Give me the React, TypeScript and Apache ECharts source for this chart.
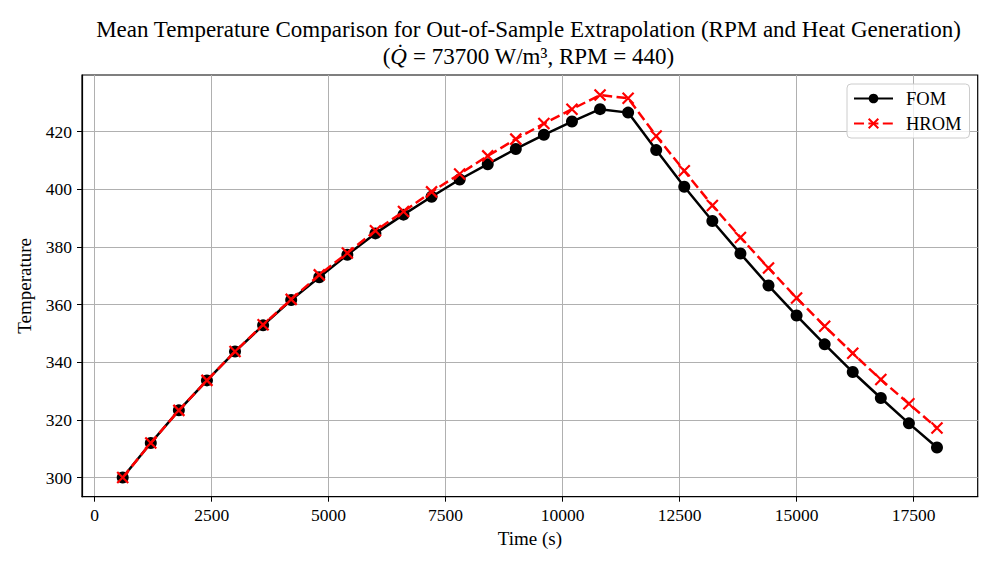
import React, { useEffect, useRef } from "react";
import * as echarts from "echarts";

const times = [600, 1200, 1800, 2400, 3000, 3600, 4200, 4800, 5400, 6000, 6600, 7200, 7800, 8400, 9000, 9600, 10200, 10800, 11400, 12000, 12600, 13200, 13800, 14400, 15000, 15600, 16200, 16800, 17400, 18000];
const fom = [300.0, 312.0, 323.3, 333.7, 343.7, 352.8, 361.6, 369.5, 377.3, 384.7, 391.2, 397.4, 403.4, 408.7, 414.0, 418.9, 423.5, 427.8, 426.6, 413.6, 400.9, 389.0, 377.7, 366.6, 356.2, 346.2, 336.6, 327.6, 318.8, 310.4];
const hrom = [300.0, 312.0, 323.3, 333.7, 343.7, 353.0, 361.8, 370.3, 377.9, 385.6, 392.3, 399.1, 405.3, 411.6, 417.4, 422.8, 427.8, 432.7, 431.6, 418.5, 406.4, 394.4, 383.3, 372.7, 362.3, 352.5, 343.1, 334.0, 325.6, 317.2];
const xTicks = [0, 2500, 5000, 7500, 10000, 12500, 15000, 17500];
const yTicks = [300, 320, 340, 360, 380, 400, 420];

const FONT = "Liberation Serif";

export default function App() {
  const ref = useRef<HTMLDivElement>(null);
  useEffect(() => {
    const chart = echarts.init(ref.current!, null, { renderer: "svg" });
    const xMarker = "path://M0,0L10,10M10,0L0,10";
    chart.setOption({
      animation: false,
      backgroundColor: "#ffffff",
      textStyle: { fontFamily: FONT },
      title: [
        {
          text: "Mean Temperature Comparison for Out-of-Sample Extrapolation (RPM and Heat Generation)",
          left: 523.5,
          top: 13,
          textAlign: "center",
          textStyle: { fontFamily: FONT, fontSize: 23, fontWeight: "normal", color: "#000" },
        },
        {
          text: "{a|(}{q|Q\u0307}{a| = 73700 W/m³, RPM = 440)}",
          left: 523.5,
          top: 40,
          textAlign: "center",
          textStyle: {
            fontFamily: FONT,
            fontSize: 23,
            fontWeight: "normal",
            color: "#000",
            rich: {
              a: { fontFamily: FONT, fontSize: 23, color: "#000" },
              q: { fontFamily: FONT, fontSize: 23, color: "#000", fontStyle: "italic" },
            },
          },
        },
      ],
      grid: { left: 82, right: 19.3, top: 75, bottom: 73.3, containLabel: false, show: true, borderColor: "#000", borderWidth: 1.2, backgroundColor: "transparent" },
      legend: {
        left: 847,
        top: 84,
        orient: "vertical",
        backgroundColor: "rgba(255,255,255,0.8)",
        borderColor: "#cccccc",
        borderWidth: 1,
        borderRadius: 4,
        padding: [5, 8, 5, 6],
        itemWidth: 39,
        itemHeight: 12,
        itemGap: 6,
        textStyle: { fontFamily: FONT, fontSize: 18.5, color: "#000", padding: [0, 0, 0, 8] },
        data: ["FOM", "HROM"],
      },
      xAxis: {
        type: "value",
        min: -270,
        max: 18870,
        name: "Time (s)",
        nameLocation: "middle",
        nameGap: 31,
        nameTextStyle: { fontFamily: FONT, fontSize: 19, color: "#000" },
        axisLine: { show: true, onZero: false, lineStyle: { color: "#000", width: 1.2 } },
        axisTick: { show: true, inside: false, length: 5, lineStyle: { color: "#000", width: 1 }, customValues: xTicks },
        axisLabel: { customValues: xTicks, fontFamily: FONT, fontSize: 17.5, color: "#000", margin: 9, formatter: (v: number) => String(v) },
        splitLine: { show: true, lineStyle: { color: "#b0b0b0", width: 1 } },
      },
      yAxis: {
        type: "value",
        min: 293.35,
        max: 439.65,
        name: "Temperature",
        nameLocation: "middle",
        nameGap: 48,
        nameRotate: 90,
        nameTextStyle: { fontFamily: FONT, fontSize: 19, color: "#000" },
        axisLine: { show: true, onZero: false, lineStyle: { color: "#000", width: 1.2 } },
        axisTick: { show: true, inside: false, length: 5, lineStyle: { color: "#000", width: 1 }, customValues: yTicks },
        axisLabel: { customValues: yTicks, fontFamily: FONT, fontSize: 17.5, color: "#000", margin: 10, formatter: (v: number) => String(v) },
        splitLine: { show: true, lineStyle: { color: "#b0b0b0", width: 1 } },
      },
      series: [
        {
          name: "FOM",
          type: "line",
          data: times.map((t, i) => [t, fom[i]]),
          symbol: "circle",
          symbolSize: 12,
          showAllSymbol: true,
          lineStyle: { color: "#000", width: 2.5 },
          itemStyle: { color: "#000" },
          z: 2,
        },
        {
          name: "HROM",
          type: "line",
          data: times.map((t, i) => [t, hrom[i]]),
          symbol: xMarker,
          symbolSize: 11,
          showAllSymbol: true,
          lineStyle: { color: "#ff0000", width: 2.5, type: [10, 4.4] },
          itemStyle: { color: "#ff0000", borderColor: "#ff0000", borderWidth: 2.2 },
          z: 3,
        },
      ],
    });
    return () => chart.dispose();
  }, []);
  return <div ref={ref} style={{ width: 997, height: 570, margin: -8 }} />;
}
